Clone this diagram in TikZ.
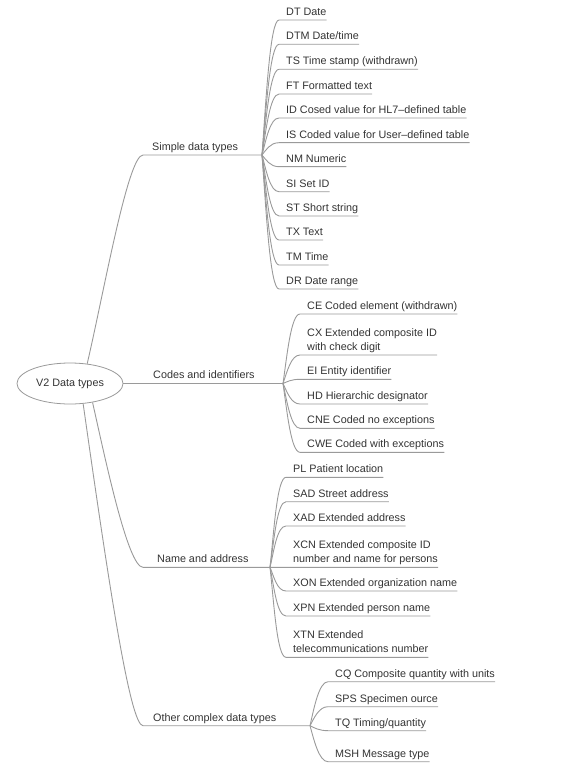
\documentclass[tikz,border=0pt]{standalone}
\usepackage{fontspec}
\setmainfont{Liberation Sans}
\usetikzlibrary{calc,shapes.geometric}

\definecolor{inkgray}{HTML}{333333}
\definecolor{linkgray}{HTML}{9A9A9A}

\tikzset{
  topic/.style={anchor=south west,inner xsep=0pt,inner ysep=0.2pt,align=left,text=inkgray,
    font=\fontsize{10.8}{14}\selectfont,execute at end node=\strut},
  rootnode/.style={ellipse,draw=linkgray,line width=0.8pt,minimum width=106pt,minimum height=41pt,
    inner sep=0pt,text=inkgray,font=\fontsize{10.8}{14}\selectfont},
  link/.style={draw=linkgray,line width=0.9pt}
}

\begin{document}
\begin{tikzpicture}[x=1pt,y=1pt]
  \useasboundingbox (0,0) rectangle (576,-770);
  \node[rootnode] (root) at (70,-383.5) {V2 Data types};

  % branches
  \node[topic] (simple) at (152,-155) {Simple data types};
  \node[topic] (codes) at (153,-383.5) {Codes and identifiers};
  \node[topic] (name) at (157,-567.3) {Name and address};
  \node[topic] (other) at (153,-725.7) {Other complex data types};
  \coordinate (simple-f) at (262,-155);
  \coordinate (codes-f) at (283,-383.5);
  \coordinate (name-f) at (270,-567.3);
  \coordinate (other-f) at (310,-725.7);

  % simple data types
  \node[topic] (dt) at (286,-20) {DT Date};
  \node[topic] (dtm) at (286,-44.3) {DTM Date/time};
  \node[topic] (ts) at (286,-69.3) {TS Time stamp (withdrawn)};
  \node[topic] (ft) at (286,-94) {FT Formatted text};
  \node[topic] (id) at (286,-118) {ID Cosed value for HL7–defined table};
  \node[topic] (is) at (286,-142.7) {IS Coded value for User–defined table};
  \node[topic] (nm) at (286,-166.7) {NM Numeric};
  \node[topic] (si) at (286,-191.7) {SI Set ID};
  \node[topic] (st) at (286,-216) {ST Short string};
  \node[topic] (tx) at (286,-240) {TX Text};
  \node[topic] (tm) at (286,-265) {TM Time};
  \node[topic] (dr) at (286,-289) {DR Date range};

  % codes and identifiers
  \node[topic] (ce) at (307,-314) {CE Coded element (withdrawn)};
  \node[topic] (cx) at (307,-355) {CX Extended composite ID\\with check digit};
  \node[topic] (ei) at (307,-379.3) {EI Entity identifier};
  \node[topic] (hd) at (307,-404) {HD Hierarchic designator};
  \node[topic] (cne) at (307,-428.3) {CNE Coded no exceptions};
  \node[topic] (cwe) at (307,-452.3) {CWE Coded with exceptions};

  % name and address
  \node[topic] (pl) at (293,-477.3) {PL Patient location};
  \node[topic] (sad) at (293,-501.7) {SAD Street address};
  \node[topic] (xad) at (293,-526) {XAD Extended address};
  \node[topic] (xcn) at (293,-567.3) {XCN Extended composite ID\\number and name for persons};
  \node[topic] (xon) at (293,-591) {XON Extended organization name};
  \node[topic] (xpn) at (293,-616) {XPN Extended person name};
  \node[topic] (xtn) at (293,-657.3) {XTN Extended\\telecommunications number};

  % other complex data types
  \node[topic] (cq) at (335,-681.7) {CQ Composite quantity with units};
  \node[topic] (sps) at (335,-706.7) {SPS Specimen ource};
  \node[topic] (tq) at (335,-730.7) {TQ Timing/quantity};
  \node[topic] (msh) at (335,-761.7) {MSH Message type};

  % root to branches
  \draw[link] (root.49) .. controls +(17,73) and +(-15,0) .. ([xshift=-9pt]simple.south west) -- (simple-f);
  \draw[link] (root.east) -- (codes-f);
  \draw[link] (root.-40) .. controls +(13,-58) and +(-15,0) .. ([xshift=-14pt]name.south west) -- (name-f);
  \draw[link] (root.-57) .. controls +(25,-176) and +(-13,0) .. ([xshift=-10pt]other.south west) -- (other-f);

  % branches to leaves
  \foreach \f/\kids in {simple-f/{dt,dtm,ts,ft,id,is,nm,si,st,tx,tm,dr},
                        codes-f/{ce,cx,ei,hd,cne,cwe},
                        name-f/{pl,sad,xad,xcn,xon,xpn,xtn},
                        other-f/{cq,sps,tq,msh}}
    \foreach \n in \kids
      \draw[link] (\f) .. controls ([xshift=4pt]$(\f)!.4!(\f |- \n.south west)$)
        and ([xshift=-16pt]\n.south west) .. ([xshift=-7pt]\n.south west) -- (\n.south east);
\end{tikzpicture}
\end{document}
